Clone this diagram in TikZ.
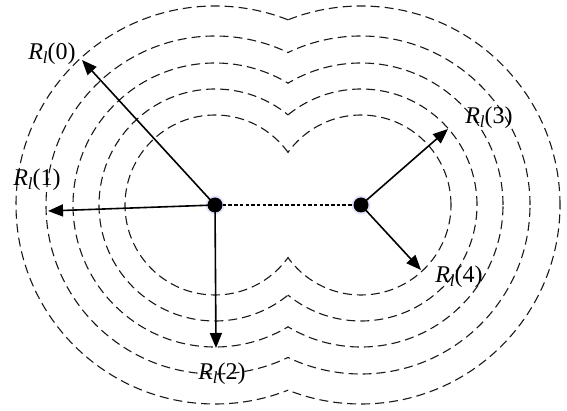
\documentclass[tikz,border=0pt]{standalone}
\usepackage{fontspec}
\setmainfont{Liberation Serif}
\usetikzlibrary{arrows.meta}
\newcommand{\rl}[1]{\textit{R}\raisebox{-0.35ex}{\fontsize{17}{17}\selectfont\textit{l}}(#1)}
\begin{document}
\begin{tikzpicture}[x=1pt,y=-1pt,
  contour/.style={dash pattern=on 9pt off 5pt, line width=1.1pt, black!90},
  hub/.style={circle, fill=black, inner sep=0pt, minimum size=15pt},
  halo/.style={circle, fill=blue!10, inner sep=0pt, minimum size=19pt},
  link/.style={line width=2pt, dash pattern=on 3.5pt off 2.2pt},
  radius arrow/.style={line width=1.6pt, -{Triangle[length=15pt,width=12pt]}},
  lab/.style={font=\fontsize{24}{26}\selectfont, inner sep=0pt}]
\useasboundingbox (0,0) rectangle (567,411);
\coordinate (A) at (215,205);
\coordinate (B) at (361,205);
\foreach \r in {90,116,142,169,199} {
  \begin{scope}
    \clip (0,0) rectangle (288,411);
    \draw[contour] (A) circle[radius=\r pt];
  \end{scope}
  \begin{scope}
    \clip (288,0) rectangle (567,411);
    \draw[contour] (B) circle[radius=\r pt];
  \end{scope}
}
\node[halo] at (A) {};
\node[halo] at (B) {};
\node[hub] (c1) at (A) {};
\node[hub] (c2) at (B) {};
\draw[link] (c1) -- (c2);
\coordinate (t0) at (82,60);
\coordinate (t1) at (48,211);
\coordinate (t2) at (216,348);
\coordinate (t3) at (448,129);
\coordinate (t4) at (421,270);
\draw[radius arrow] (c1.center) -- (t0);
\draw[radius arrow] (c1.center) -- (t1);
\draw[radius arrow] (c1.center) -- (t2);
\draw[radius arrow] (c2.center) -- (t3);
\draw[radius arrow] (c2.center) -- (t4);
\node[lab] (l0) at (52,54) {\rl{0}};
\node[lab] (l1) at (37,180) {\rl{1}};
\node[lab] (l2) at (222,374) {\rl{2}};
\node[lab] (l3) at (489,118) {\rl{3}};
\node[lab] (l4) at (459,277) {\rl{4}};
\end{tikzpicture}
\end{document}
